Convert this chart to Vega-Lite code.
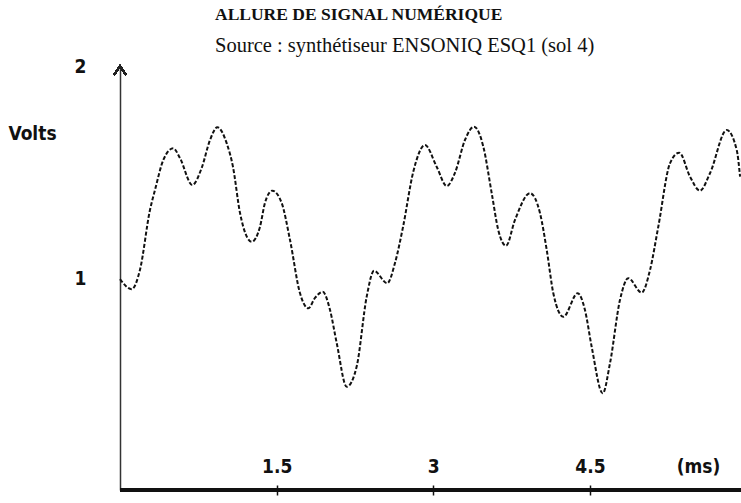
{
  "$schema": "https://vega.github.io/schema/vega-lite/v6.json",
  "autosize": "none",
  "width": 621,
  "height": 424,
  "padding": {"left": 120, "top": 66, "right": 0, "bottom": 13},
  "background": "white",
  "title": {
    "text": "ALLURE DE SIGNAL NUMÉRIQUE",
    "subtitle": "Source : synthétiseur ENSONIQ ESQ1 (sol 4)",
    "anchor": "start",
    "frame": "group",
    "dx": 95,
    "offset": 1,
    "font": "Liberation Serif",
    "fontWeight": "bold",
    "fontSize": 17.5,
    "color": "#111",
    "subtitleFont": "Liberation Serif",
    "subtitleFontSize": 20.5,
    "subtitleColor": "#111",
    "subtitlePadding": 12
  },
  "config": {"view": {"stroke": null}},
  "data": {
    "values": [
      {"t": 0.0, "v": 0.995},
      {"t": 0.112, "v": 0.947},
      {"t": 0.191, "v": 1.038},
      {"t": 0.287, "v": 1.321},
      {"t": 0.335, "v": 1.415},
      {"t": 0.415, "v": 1.557},
      {"t": 0.51, "v": 1.612},
      {"t": 0.574, "v": 1.566},
      {"t": 0.692, "v": 1.439},
      {"t": 0.782, "v": 1.519},
      {"t": 0.862, "v": 1.651},
      {"t": 0.932, "v": 1.711},
      {"t": 1.022, "v": 1.635},
      {"t": 1.082, "v": 1.524},
      {"t": 1.149, "v": 1.307},
      {"t": 1.261, "v": 1.171},
      {"t": 1.34, "v": 1.241},
      {"t": 1.388, "v": 1.354},
      {"t": 1.458, "v": 1.412},
      {"t": 1.548, "v": 1.354},
      {"t": 1.628, "v": 1.179},
      {"t": 1.723, "v": 0.929},
      {"t": 1.803, "v": 0.857},
      {"t": 1.867, "v": 0.906},
      {"t": 1.941, "v": 0.935},
      {"t": 2.011, "v": 0.849},
      {"t": 2.075, "v": 0.693},
      {"t": 2.171, "v": 0.487},
      {"t": 2.266, "v": 0.582},
      {"t": 2.362, "v": 0.912},
      {"t": 2.432, "v": 1.034},
      {"t": 2.559, "v": 0.975},
      {"t": 2.633, "v": 1.071},
      {"t": 2.71, "v": 1.241},
      {"t": 2.808, "v": 1.501},
      {"t": 2.92, "v": 1.627},
      {"t": 3.032, "v": 1.525},
      {"t": 3.128, "v": 1.434},
      {"t": 3.208, "v": 1.497},
      {"t": 3.303, "v": 1.651},
      {"t": 3.39, "v": 1.714},
      {"t": 3.479, "v": 1.619},
      {"t": 3.559, "v": 1.4},
      {"t": 3.622, "v": 1.226},
      {"t": 3.696, "v": 1.152},
      {"t": 3.782, "v": 1.274},
      {"t": 3.926, "v": 1.4},
      {"t": 4.021, "v": 1.307},
      {"t": 4.086, "v": 1.132},
      {"t": 4.149, "v": 0.928},
      {"t": 4.245, "v": 0.817},
      {"t": 4.382, "v": 0.928},
      {"t": 4.452, "v": 0.849},
      {"t": 4.516, "v": 0.676},
      {"t": 4.622, "v": 0.456},
      {"t": 4.692, "v": 0.599},
      {"t": 4.787, "v": 0.896},
      {"t": 4.867, "v": 0.999},
      {"t": 4.995, "v": 0.931},
      {"t": 5.075, "v": 1.038},
      {"t": 5.154, "v": 1.242},
      {"t": 5.266, "v": 1.541},
      {"t": 5.355, "v": 1.591},
      {"t": 5.458, "v": 1.478},
      {"t": 5.553, "v": 1.412},
      {"t": 5.649, "v": 1.494},
      {"t": 5.809, "v": 1.698},
      {"t": 5.905, "v": 1.604},
      {"t": 5.937, "v": 1.478}
    ]
  },
  "layer": [
    {
      "mark": {"type": "rule", "stroke": "#111", "strokeWidth": 2.5},
      "encoding": {"y": {"datum": 0}}
    },
    {
      "mark": {"type": "line", "interpolate": "monotone", "stroke": "#111", "strokeWidth": 2, "strokeDash": [4, 2]},
      "encoding": {
        "x": {
          "field": "t",
          "type": "quantitative",
          "scale": {"domain": [0, 5.946], "nice": false, "zero": false},
          "axis": {
            "values": [1.5, 3, 4.5],
            "format": "",
            "domain": false,
            "grid": false,
            "offset": -5,
            "tickSize": 10,
            "tickWidth": 1.5,
            "tickColor": "#111",
            "labelFont": "DejaVu Sans Condensed, DejaVu Sans",
            "labelFontWeight": "bold",
            "labelFontSize": 19,
            "labelColor": "#111",
            "labelBaseline": "middle",
            "labelPadding": -29,
            "labelFlush": false,
            "title": "(ms)",
            "titleFont": "DejaVu Sans Condensed, DejaVu Sans",
            "titleFontWeight": "bold",
            "titleFontSize": 19,
            "titleColor": "#111",
            "titleX": 578,
            "titleY": -19,
            "titleAlign": "center",
            "titleBaseline": "middle"
          }
        },
        "y": {
          "field": "v",
          "type": "quantitative",
          "scale": {"domain": [0, 2], "nice": false},
          "axis": {
            "values": [1, 2],
            "format": "d",
            "grid": false,
            "ticks": false,
            "tickSize": 0,
            "domainColor": "#333",
            "domainWidth": 1.5,
            "labelFont": "DejaVu Sans Condensed, DejaVu Sans",
            "labelFontWeight": "bold",
            "labelFontSize": 19,
            "labelColor": "#111",
            "labelAlign": "center",
            "labelBaseline": "middle",
            "labelPadding": 40,
            "labelFlush": false,
            "title": "Volts",
            "titleFont": "DejaVu Sans Condensed, DejaVu Sans",
            "titleFontWeight": "bold",
            "titleFontSize": 19,
            "titleColor": "#111",
            "titleAngle": 0,
            "titleX": -88,
            "titleY": 67,
            "titleAlign": "center",
            "titleBaseline": "middle"
          }
        }
      }
    },
    {
      "mark": {"type": "point", "shape": "M -0.67 1 L 0 0 L 0.67 1", "filled": false, "stroke": "#222", "strokeWidth": 1.5, "size": 324, "opacity": 1, "clip": false},
      "encoding": {"x": {"datum": 0}, "y": {"datum": 2}}
    }
  ]
}
